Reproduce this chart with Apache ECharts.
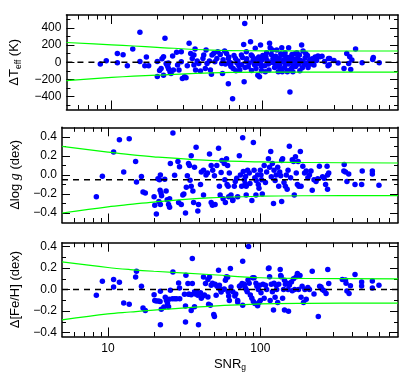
<!DOCTYPE html>
<html><head><meta charset="utf-8">
<script src="https://cdn.jsdelivr.net/npm/echarts@6/dist/echarts.min.js"></script>
<style>html,body{margin:0;padding:0;background:#fff}#c{width:415px;height:378px}</style>
</head><body><div id="c"></div>
<script>
// ---------- data ----------
const snrMajorTicks = [10, 100];
const snrMinorTicks = [6,7,8,9,20,30,40,50,60,70,80,90,200,300,400,500,600,700];

const teffTicks = [-400,-200,0,200,400];
const teffMinorTicks = [-500,-300,-100,100,300,500];
const loggTicks = [-0.4,-0.2,0,0.2,0.4];
const loggMinorTicks = [-0.3,-0.1,0.1,0.3];
const fehTicks = [-0.4,-0.2,0,0.2,0.4];
const fehMinorTicks = [-0.3,-0.1,0.1,0.3];

const curveSnr  = [5, 10, 14, 20, 46, 100, 200, 800];
const teffUpper = [230, 203, 189, 174, 142, 133, 131, 131];
const teffLower = [-213, -177, -162, -150, -124, -116, -115, -115];
const loggUpper = [0.30, 0.24, 0.213, 0.19, 0.152, 0.136, 0.13, 0.125];
const loggLower = [-0.40, -0.335, -0.31, -0.285, -0.242, -0.224, -0.219, -0.217];
const fehUpper  = [0.257, 0.205, 0.186, 0.17, 0.14, 0.11, 0.103, 0.10];
const fehLower  = [-0.28, -0.225, -0.208, -0.19, -0.155, -0.132, -0.127, -0.125];

const teffOffset = 0;
const loggOffset = -0.05;
const fehOffset = 0;

const teffPoints = [
[8.4,-21],[9.2,18],[10.9,103],[10.9,-5],[11.9,88],[12.7,-41],[13.8,154],[15.4,350],[15.4,9],[16.6,-41],[17.0,62],[17.6,-41],
[20.1,10],[20.1,-166],[20.8,-95],[21.3,-72],[21.6,40],[22.1,64],[22.1,-150],[22.6,278],[23.0,-14],[23.3,-30],[23.8,-10],[23.6,-53],[23.9,-80],[24.4,-111],[24.8,-131],[25.4,72],[25.7,-91],[27.0,115],[27.4,-33],[28.0,-91],[29.0,6],[29.0,123],[29.5,-189],[30.5,-170],[31.2,-180],[31.8,-41],[32.7,222],[33.5,103],[34.3,45],[35.2,84],[35.2,-33],[35.8,154],[36.1,-91],[37.0,14],[37.9,-14],[38.9,-103],[40.4,45],[40.9,84],[41.9,-72],[42.4,143],[43.0,-14],[44.6,14],[45.3,-91],[46.0,-140],
[46.4,84],[47.6,103],[48.5,6],[50,45],[50.7,123],[52.7,91],[53.9,-14],[54.5,-131],[56.3,131],[58,103],[59.6,45],[59.6,-250],[60.5,0],[61.5,-25],[62,-10],[63.6,-425],[64.2,-72],[66.5,45],[68,-10],[70,-40],[71,-91],[72.8,84],[75.4,208],[75.9,-226],[76.6,450],[78.5,123],[78.5,6],[80.8,-53],[83.7,240],[84.6,84],[87,20],[88,30],[90,162],[91,-72],[93.6,-150],[96,-170],[97.5,201],[100,30],[101,80],[102,55],[98,-20],[99,-50],
[55,30],[57,-20],[60,60],[62,-50],[65,80],[67,-100],[69,15],[73,-30],[74,55],[77,-60],[79,40],[82,-10],[85,-95],[86,70],[89,-30],[92,40],[94,-15],[95,60],[97,10],[99,-100],
[106,60],[108,20],[110,-20],[112,220],[113,170],[115,90],[117,143],[118,40],[120,-10],[121,-60],[123,70],[125,143],[126,0],[128,-110],[130,50],[131,-30],[133,100],[135,170],[136,-110],[138,85],[140,30],[142,110],[143,-20],[145,60],[147,-110],[150,170],[150,-96],[152,20],[153,-347],[155,-10],[158,90],[160,40],[162,-40],[165,100],[168,10],[172,50],[175,-20],[177,85],[180,20],[183,201],[185,-64],[187,131],[190,-30],[193,50],[197,-14],[200,80],[205,10],[210,-20],[215,40],[221,-33],[225,60],[235,72],[242,64],[250,70],[260,10],[274,-41],[276,45],[279,-30],[281,45],[300,20],[320,-10],[350,-72],[365,103],[376,-14],[382,64],[388,-84],[395,25],[418,154],[462,-6],[543,33],[548,56],[600,-6],
[104,-40],[107,110],[111,-90],[116,0],[119,30],[124,-50],[127,30],[132,-80],[137,10],[141,-60],[146,30],[149,-20],[154,60],[157,-70],[163,20],[167,-50],[170,110],[178,-100],[188,0],[195,100],[202,-60],[208,30],[218,-10],[230,20],[105,-110],[160,-112]
];

const loggPoints = [
[8.4,-0.23],[9.2,-0.014],[10.9,0.24],[11.9,0.37],[12.7,0.03],[13.8,0.38],[15.2,0.14],[15.4,-0.075],[16.6,-0.017],[17.0,-0.18],[17.6,-0.19],[20.1,-0.23],[20.3,-0.32],[20.8,-0.41],[21.3,-0.04],[21.6,-0.28],[21.8,-0.05],[22.1,0.0],[22.0,-0.16],[22.3,-0.19],[22.5,-0.22],[22.1,-0.31],[23.6,-0.046],[24.1,-0.17],[24.5,-0.26],[25.0,-0.31],[25.4,-0.34],[25.4,-0.25],[25.7,0.12],[26.7,0.44],[27.4,-0.003],[28.8,0.14],[29.1,-0.29],[29.5,0.085],[30.3,-0.31],[31.0,-0.21],[31.5,-0.2],[32.3,-0.40],[32.7,-0.13],[33.2,-0.01],[33.8,0.12],[34.3,0.1],[34.6,-0.057],[35.2,0.2],[35.2,-0.12],[36.1,-0.17],[36.5,-0.29],[37.0,0.08],[37.9,0.29],[38.9,-0.38],[39.3,-0.31],[40.5,-0.1],[41.0,0.03],[42.4,0.05],[42.4,-0.21],[44.0,0.0],[45.0,0.02],
[46.4,0.22],[47.6,0.1],[48.7,0.05],[47.6,-0.29],[48.5,-0.32],[50.0,-0.01],[50.5,-0.31],[51.8,0.1],[53.2,0.28],[53.9,-0.12],[54.5,-0.21],[55.3,0.026],[56,0.15],[57,-0.25],[58,0.12],[58.5,-0.05],[59,-0.29],[60,0.17],[60.5,-0.1],[61,0.1],[61.5,-0.12],[62.6,0.02],[62,-0.23],[64.2,-0.21],[65.9,-0.27],[66,-0.26],[67.5,-0.12],[68.5,-0.07],[70,-0.035],[71,-0.23],[72.8,0.2],[74,0.0],[75.4,-0.12],[76.6,0.39],[77.3,0.036],[78.5,-0.05],[79.5,-0.09],[80.8,-0.12],[80,-0.017],[80.8,-0.21],[82.5,0.05],[84.6,0.02],[85.5,-0.09],[88,-0.27],[90,0.34],[91,0.05],[92,-0.03],[93.6,-0.21],[94,-0.06],[96,0.0],[97,-0.1],[98,-0.14],[100,0.05],[101,0.0],[102,-0.05],[103,-0.2],
[106,0.1],[108,-0.08],[110,0.03],[113,0.17],[115,0.08],[117,0.245],[118,-0.02],[120,0.12],[122,-0.3],[123,0.05],[125,-0.06],[127,0.0],[130,0.08],[132,-0.12],[134,0.03],[136,-0.01],[138,-0.28],[138,0.15],[140,0.17],[143,-0.08],[146,-0.12],[148,0.0],[150,-0.15],[152,0.05],[155,0.3],[158,-0.03],[162,0.16],[165,0.14],[167,-0.21],[170,0.19],[172,0.02],[175,-0.1],[177,0.14],[179,-0.12],[183,0.245],[185,-0.12],[190,0.09],[195,0.02],[200,0.04],[205,-0.03],[210,0.0],[215,0.04],[219,-0.16],[225,-0.05],[232,-0.07],[238,-0.04],[244,0.09],[256,-0.02],[262,-0.035],[268,-0.1],[274,0.09],[276,0.0],[276,-0.15],[281,0.02],[353,0.04],[355,0.11],[362,0.03],[370,-0.07],[380,0.01],[418,-0.1],[462,-0.1],[466,0.04],[543,0.04],[543,0.01],[600,-0.11]
];

const fehPoints = [
[8.4,-0.053],[9.2,0.077],[10.9,0.093],[10.9,0.024],[11.9,0.068],[12.7,-0.125],[13.8,-0.137],[15.2,0.117],[15.4,0.17],[16.6,0.031],[17.0,-0.171],[17.6,-0.193],[20.1,-0.047],[20.3,-0.1],[20.8,-0.105],[21.5,-0.105],[22.0,-0.11],[22.1,-0.016],[22.1,-0.326],[22.4,-0.183],[23.3,-0.161],[23.8,-0.07],[24.2,-0.1],[24.6,-0.13],[25.0,-0.16],[25.2,-0.09],[25.7,-0.007],[26.5,-0.084],[26.7,0.164],[27.4,-0.085],[28.2,-0.085],[29.1,0.062],[29.5,0.015],[29.6,-0.085],[31.8,-0.044],[32.3,-0.152],[32.3,-0.30],[32.5,0.133],[33.5,0.056],[33.8,-0.044],[34.3,-0.044],[35.2,-0.047],[35.2,-0.193],[35.8,0.288],[35.8,0.056],[37.0,-0.02],[37.5,-0.04],[38.2,-0.02],[38.9,-0.053],[37.0,-0.16],[39.3,-0.326],[40.5,-0.03],[41,-0.08],[42,-0.06],[42.4,0.117],[43.0,-0.05],[43.7,0.056],[45.3,0.093],[45.3,-0.069],[45.8,-0.137],
[46.4,0.117],[47,-0.146],[47.6,0.04],[48.5,0.06],[49.5,-0.23],[50,-0.25],[50.5,0.05],[51.3,-0.053],[52,0.03],[53.2,0.18],[53.9,0.04],[54.5,0.0],[55.3,-0.022],[57,0.0],[58,0.005],[59,0.087],[60,0.12],[61,0.115],[61.5,-0.02],[62,-0.06],[62.6,-0.1],[63.6,0.195],[64.2,0.024],[66,-0.02],[68,-0.06],[69,-0.04],[71,-0.1],[71,-0.115],[73,0.03],[74,0.035],[75.9,0.056],[76.6,0.263],[76.6,-0.146],[78.5,0.05],[79.5,0.02],[80.8,0.0],[82,-0.02],[83,0.09],[83.7,0.40],[84.5,0.06],[86,-0.05],[88,-0.08],[89,0.11],[90,-0.11],[91,0.11],[92,-0.13],[93.6,0.06],[95,0.03],[96,-0.15],[97,0.0],[98,-0.12],[99,0.04],[100,-0.1],[101,-0.03],
[104,0.05],[106,-0.08],[108,0.04],[110,0.0],[113,0.195],[114,0.2],[115,0.12],[116,-0.1],[118,0.05],[120,-0.02],[122,-0.19],[123,0.06],[125,-0.07],[127,0.04],[128,0.0],[130,-0.12],[132,0.05],[135,0.186],[136,0.13],[137,0.12],[140,-0.08],[142,0.0],[144,0.087],[144,-0.19],[146,0.05],[150,0.06],[152,0.0],[153,-0.2],[155,0.04],[160,0.07],[162,-0.01],[165,0.1],[168,0.0],[172,0.12],[175,0.15],[178,0.0],[182,0.13],[185,-0.07],[188,0.03],[192,-0.12],[196,0.0],[200,-0.09],[205,0.02],[210,0.0],[219,0.17],[225,-0.04],[240,-0.25],[245,0.03],[250,0.025],[255,0.0],[262,-0.01],[270,-0.037],[277,0.186],[281,0.056],[345,0.093],[362,0.09],[365,0.06],[370,-0.013],[382,-0.037],[390,0.035],[418,0.14],[462,0.07],[462,0.034],[543,0.08],[543,0.015],[600,0.04]
];

// ---------- chart construction ----------
const SANS = 'Liberation Sans, Arial, sans-serif';
const SERIF = 'Liberation Serif, Times New Roman, serif';
const nameRich = {
  a: {fontSize: 13, fontFamily: SANS, color: '#000', lineHeight: 18, verticalAlign: 'middle'},
  s: {fontSize: 8.5, fontFamily: SANS, color: '#000', lineHeight: 9, verticalAlign: 'bottom'},
  g: {fontSize: 14, fontFamily: SERIF, fontStyle: 'italic', color: '#000', lineHeight: 18, verticalAlign: 'middle'}
};
const minusFmt = d => v => { const s = d ? Math.abs(v).toFixed(d) : String(Math.abs(Math.round(v))); return (v < -1e-9 ? '\u2212' : '') + s; };

const panels = [
  {pts: teffPoints, up: teffUpper, lo: teffLower, off: teffOffset, min: -550, max: 550, ticks: teffTicks, minor: teffMinorTicks,
   top: 15, height: 94.5, name: '{a|\u0394T}{s|eff}{a| (K)}', fmt: minusFmt(0)},
  {pts: loggPoints, up: loggUpper, lo: loggLower, off: loggOffset, min: -0.5, max: 0.5, ticks: loggTicks, minor: loggMinorTicks,
   top: 127.3, height: 95.2, name: '{a|\u0394log }{g|g}{a| (dex)}', fmt: minusFmt(1)},
  {pts: fehPoints, up: fehUpper, lo: fehLower, off: fehOffset, min: -0.435, max: 0.435, ticks: fehTicks, minor: fehMinorTicks,
   top: 242.7, height: 93.8, name: '{a|\u0394[Fe/H] (dex)}', fmt: minusFmt(1)}
];

const grids = [], xAxes = [], yAxes = [], series = [];
const lineStyleAxis = {color: '#000', width: 1.5};

panels.forEach((p, i) => {
  grids.push({left: 62, width: 336, top: p.top, height: p.height});
  const mkX = (pos, ticks, len, line, labels) => ({
    type: 'log', logBase: 10, gridIndex: i, min: 5, max: 800, position: pos,
    axisLine: {show: line, onZero: false, lineStyle: lineStyleAxis},
    axisTick: {show: true, inside: true, length: len, customValues: ticks, lineStyle: {color: '#000', width: 1}},
    axisLabel: {show: labels, customValues: ticks, color: '#000', fontSize: 12, fontFamily: SANS, margin: 6,
      formatter: v => String(Math.round(v))},
    splitLine: {show: false}, minorTick: {show: false}, minorSplitLine: {show: false}
  });
  const xb = mkX('bottom', snrMajorTicks, 9, true, i === 2);
  if (i === 2) {
    xb.name = '{a|SNR}{s|g}';
    xb.nameLocation = 'middle';
    xb.nameGap = 20;
    xb.nameTextStyle = {rich: {
      a: {fontSize: 13, fontFamily: SANS, color: '#000', lineHeight: 16, verticalAlign: 'middle'},
      s: {fontSize: 8.5, fontFamily: SANS, color: '#000', lineHeight: 9, verticalAlign: 'bottom'}}};
  }
  xAxes.push(xb, mkX('bottom', snrMinorTicks, 4.5, false, false),
             mkX('top', snrMajorTicks, 9, true, false), mkX('top', snrMinorTicks, 4.5, false, false));

  const mkY = (pos, ticks, len, line, labels) => ({
    type: 'value', gridIndex: i, min: p.min, max: p.max, position: pos,
    axisLine: {show: line, onZero: false, lineStyle: lineStyleAxis},
    axisTick: {show: true, inside: true, length: len, customValues: ticks, lineStyle: {color: '#000', width: 1}},
    axisLabel: {show: labels, customValues: ticks, color: '#000', fontSize: 12, fontFamily: SANS, margin: 5, formatter: p.fmt},
    splitLine: {show: false}
  });
  const yl = mkY('left', p.ticks, 8, true, true);
  yl.name = p.name;
  yl.nameLocation = 'middle';
  yl.nameRotate = 90;
  yl.nameGap = 38;
  yl.nameTextStyle = {rich: nameRich};
  yAxes.push(yl, mkY('left', p.minor, 4, false, false),
             mkY('right', p.ticks, 8, true, false), mkY('right', p.minor, 4, false, false));

  const xi = 4 * i, yi = 4 * i;
  series.push({type: 'scatter', xAxisIndex: xi, yAxisIndex: yi, data: p.pts, symbol: 'circle', symbolSize: 5.5,
    itemStyle: {color: '#0000ff', opacity: 1}, silent: true, z: 2});
  [p.up, p.lo].forEach(arr => series.push({type: 'line', xAxisIndex: xi, yAxisIndex: yi,
    data: curveSnr.map((s, k) => [s, arr[k]]), smooth: 0.35, showSymbol: false, silent: true,
    lineStyle: {color: '#00ff00', width: 1.2}, z: 3}));
  series.push({type: 'line', xAxisIndex: xi, yAxisIndex: yi, data: [[5, p.off], [800, p.off]],
    showSymbol: false, silent: true, lineStyle: {color: '#000', width: 1.5, type: [6, 5]}, z: 4});
});

const chart = echarts.init(document.getElementById('c'), null, {renderer: 'canvas'});
chart.setOption({animation: false, backgroundColor: '#fff', grid: grids, xAxis: xAxes, yAxis: yAxes, series: series});
</script>
</body></html>
